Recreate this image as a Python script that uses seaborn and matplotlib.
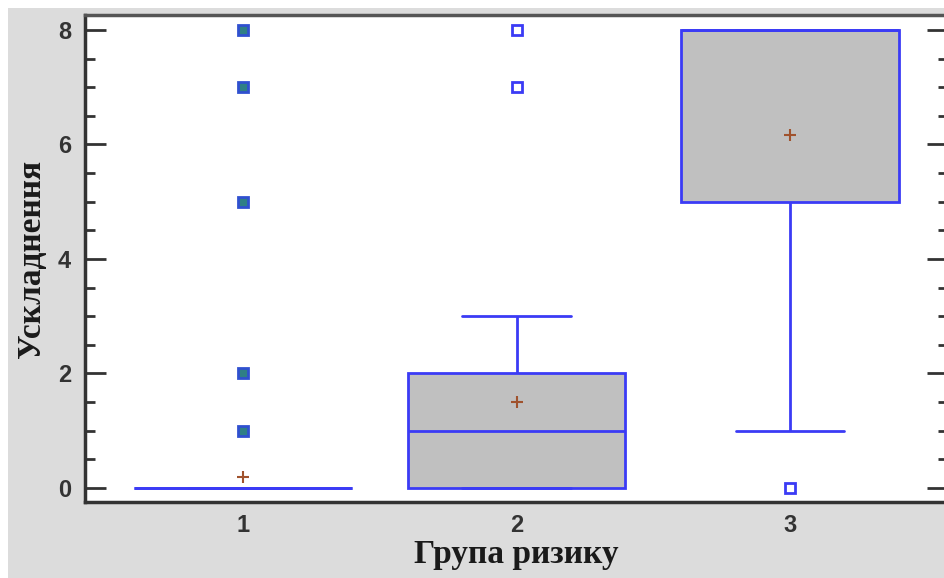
import numpy as np
import pandas as pd
import matplotlib
matplotlib.use("Agg")
import matplotlib.pyplot as plt
from matplotlib.patches import Rectangle
from matplotlib.ticker import MultipleLocator
import seaborn as sns

# ---- data (value / count pairs per risk group) ----
groups = ["1", "2", "3"]
g1_values = [0, 1, 2, 5, 7, 8]
g1_counts = [115, 1, 1, 1, 1, 1]
g2_values = [0, 1, 2, 3, 7, 8]
g2_counts = [12, 6, 6, 4, 1, 1]
g3_values = [0, 1, 5, 7, 8]
g3_counts = [1, 1, 2, 1, 7]

yticks = [0, 2, 4, 6, 8]
xlabel = "Група ризику"
ylabel = "Ускладнення"

rows = []
for g, vals, cnts in zip(groups, [g1_values, g2_values, g3_values],
                         [g1_counts, g2_counts, g3_counts]):
    for v, c in zip(vals, cnts):
        rows += [(g, v)] * c
df = pd.DataFrame(rows, columns=["group", "value"])

sns.set_theme(style="white")
BLUE = "#3b3bf5"
fig = plt.figure(figsize=(9.44, 5.78), dpi=100)
fig.patch.set_facecolor("#dcdcdc")
# thin white frame on top / left of the image
fig.patches.append(Rectangle((0, 1 - 8 / 578), 1, 8 / 578, transform=fig.transFigure,
                             facecolor="white", edgecolor="none", zorder=-1))
fig.patches.append(Rectangle((0, 0), 8 / 944, 1, transform=fig.transFigure,
                             facecolor="white", edgecolor="none", zorder=-1))

ax = fig.add_axes([85 / 944, 76 / 578, (948 - 85) / 944, (502 - 15) / 578])
ax.set_facecolor("white")

sns.boxplot(data=df, x="group", y="value", order=groups, ax=ax,
            width=0.795, whis=1.5, showmeans=True,
            boxprops=dict(facecolor="#c0c0c0", edgecolor=BLUE, linewidth=2),
            whiskerprops=dict(color=BLUE, linewidth=2),
            capprops=dict(color=BLUE, linewidth=2),
            medianprops=dict(color=BLUE, linewidth=2),
            meanprops=dict(marker="+", markeredgecolor="#a0522d",
                           markerfacecolor="#a0522d", markersize=9, markeredgewidth=1.5),
            flierprops=dict(marker="s", markeredgecolor=BLUE, markerfacecolor="white",
                            markersize=7, markeredgewidth=2))

# far-outside points of group 1 drawn as filled squares
for ln in ax.lines:
    if ln.get_marker() == "s":
        xd = np.asarray(ln.get_xdata(), dtype=float)
        if len(xd) and np.allclose(xd, 0):
            ln.set_markerfacecolor("#2f7f86")
            ln.set_markeredgecolor("#3050d0")

ax.set_xlim(-0.578, 2.578)
ax.set_ylim(-0.245, 8.26)
ax.set_yticks(yticks)
ax.yaxis.set_minor_locator(MultipleLocator(0.5))
ax.tick_params(axis="y", which="major", direction="in", length=15, width=2,
               left=True, right=True, color="#333333", pad=10)
ax.tick_params(axis="y", which="minor", direction="in", length=7, width=2,
               left=True, right=True, color="#333333")
ax.tick_params(axis="x", length=0, pad=9)
for lab in ax.get_xticklabels() + ax.get_yticklabels():
    lab.set_fontfamily("Liberation Sans")
    lab.set_fontweight("bold")
    lab.set_fontsize(17)
    lab.set_color("#333333")

for side in ["left", "bottom"]:
    ax.spines[side].set_color("#333333")
    ax.spines[side].set_linewidth(2.5)
ax.spines["top"].set_color("#555555")
ax.spines["top"].set_linewidth(2.5)
ax.spines["right"].set_visible(False)

ax.set_xlabel(xlabel, fontfamily="Liberation Serif", fontweight="bold",
              fontsize=24, color="#1a1a1a", labelpad=1)
ax.set_ylabel(ylabel, fontfamily="Liberation Serif", fontweight="bold",
              fontsize=24, color="#1a1a1a", labelpad=8)

fig.savefig("out.png", dpi=100, facecolor=fig.get_facecolor())
